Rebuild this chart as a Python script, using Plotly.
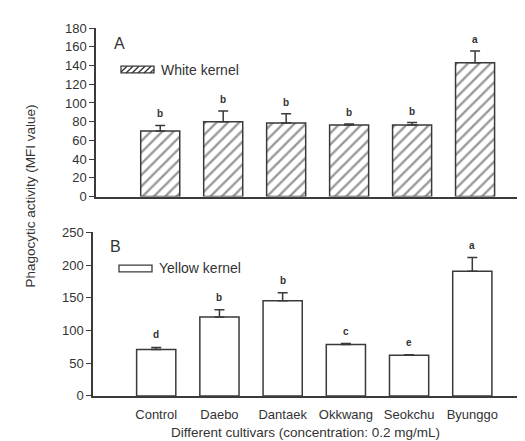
import plotly.graph_objects as go

W, H = 525, 441

categories = ["Control", "Daebo", "Dantaek", "Okkwang", "Seokchu", "Byunggo"]
white_mean = [70, 80, 78.5, 76.5, 76.5, 143]
white_err = [6, 11.5, 10, 1, 2.5, 12.5]
white_letters = ["b", "b", "b", "b", "b", "a"]
yellow_mean = [71, 120.5, 145.5, 78.5, 62, 190.5]
yellow_err = [3, 11, 12, 1.5, 1, 21]
yellow_letters = ["d", "b", "b", "c", "e", "a"]

top_ticks = [0, 20, 40, 60, 80, 100, 120, 140, 160, 180]
bot_ticks = [0, 50, 100, 150, 200, 250]

FONT = "Liberation Sans, Arial, sans-serif"
LINE = "#3a3a3a"
TXT = "#333333"

def px(x):
    return x / W

def py(y):
    return 1 - y / H

xs = list(range(len(categories)))

fig = go.Figure()

fig.add_trace(go.Bar(
    x=xs, y=white_mean, width=0.62, xaxis="x", yaxis="y",
    marker=dict(color="white", line=dict(color=LINE, width=1.5),
                pattern=dict(shape="/", size=8, solidity=0.3, fgcolor="#333333", bgcolor="white")),
    error_y=dict(type="data", symmetric=False, array=white_err, arrayminus=[0] * 6,
                 color=LINE, thickness=1.5, width=5),
    showlegend=False,
))
fig.add_trace(go.Bar(
    x=xs, y=yellow_mean, width=0.62, xaxis="x2", yaxis="y2",
    marker=dict(color="white", line=dict(color=LINE, width=1.5)),
    error_y=dict(type="data", symmetric=False, array=yellow_err, arrayminus=[0] * 6,
                 color=LINE, thickness=1.5, width=5),
    showlegend=False,
))

annotations = []
for i in xs:
    annotations.append(dict(x=i, y=white_mean[i] + white_err[i], xref="x", yref="y",
                            text="<b>" + white_letters[i] + "</b>", showarrow=False, yanchor="bottom", yshift=4,
                            font=dict(family=FONT, size=10, color=TXT)))
    annotations.append(dict(x=i, y=yellow_mean[i] + yellow_err[i], xref="x2", yref="y2",
                            text="<b>" + yellow_letters[i] + "</b>", showarrow=False, yanchor="bottom", yshift=5,
                            font=dict(family=FONT, size=10, color=TXT)))

# panel labels
annotations.append(dict(x=px(104), y=py(29), xref="paper", yref="paper", text="A", showarrow=False,
                        xanchor="left", yanchor="middle", font=dict(family=FONT, size=16, color=TXT)))
annotations.append(dict(x=px(100), y=py(240), xref="paper", yref="paper", text="B", showarrow=False,
                        xanchor="left", yanchor="middle", font=dict(family=FONT, size=16, color=TXT)))
# legend texts
annotations.append(dict(x=px(151), y=py(57), xref="paper", yref="paper", text="White kernel", showarrow=False,
                        xanchor="left", yanchor="middle", font=dict(family=FONT, size=14, color=TXT)))
annotations.append(dict(x=px(149), y=py(262), xref="paper", yref="paper", text="Yellow kernel", showarrow=False,
                        xanchor="left", yanchor="middle", font=dict(family=FONT, size=14, color=TXT)))
# axis titles
annotations.append(dict(x=px(23), y=py(188), xref="paper", yref="paper",
                        text="Phagocytic activity (MFI value)", showarrow=False, textangle=-90,
                        xanchor="center", yanchor="middle", font=dict(family=FONT, size=13.5, color=TXT)))
annotations.append(dict(x=px(297), y=py(432), xref="paper", yref="paper",
                        text="Different cultivars (concentration: 0.2 mg/mL)", showarrow=False,
                        xanchor="center", yanchor="middle", font=dict(family=FONT, size=13.5, color=TXT)))

shapes = []
# legend swatches
def swatch(x0, y0, x1, y1, hatch):
    shapes.append(dict(type="rect", xref="paper", yref="paper", x0=px(x0), x1=px(x1), y0=py(y1), y1=py(y0),
                       line=dict(color=LINE, width=1.3), fillcolor="white"))
    if hatch:
        h = y1 - y0
        s = 6
        start = x0 - h
        while start < x1:
            ax, ay = start, y1
            bx, by = start + h, y0
            if ax < x0:
                ay = y1 - (x0 - ax)
                ax = x0
            if bx > x1:
                by = y0 + (bx - x1)
                bx = x1
            if bx > ax:
                shapes.append(dict(type="line", xref="paper", yref="paper",
                                   x0=px(ax), y0=py(ay), x1=px(bx), y1=py(by),
                                   line=dict(color="#333333", width=1.3)))
            start += s

swatch(113, 53, 146, 60, True)
swatch(111, 259, 144, 266, False)

axis_common = dict(showgrid=False, zeroline=False, showline=True, linecolor=LINE, linewidth=1.5)
ytickfont = dict(family=FONT, size=13, color=TXT)
xtickfont = dict(family=FONT, size=13, color=TXT)

fig.update_layout(
    width=W, height=H,
    margin=dict(l=0, r=0, t=0, b=0),
    paper_bgcolor="white", plot_bgcolor="white",
    xaxis=dict(domain=[px(88), 1], anchor="y", range=[-1.02, 5.92], tickvals=xs,
               showticklabels=False, ticks="", **axis_common),
    yaxis=dict(domain=[py(188), py(13.5)], anchor="x", range=[0, 180], tickvals=top_ticks,
               ticks="outside", ticklen=5, tickcolor=LINE, tickwidth=1.3, tickfont=ytickfont, **axis_common),
    xaxis2=dict(domain=[px(85), 1], anchor="y2", range=[-1.0, 5.96], tickvals=xs, ticktext=categories,
                ticks="", ticklabelstandoff=6, tickfont=xtickfont, **axis_common),
    yaxis2=dict(domain=[py(394.3), py(225)], anchor="x2", range=[0, 250], tickvals=bot_ticks,
                ticks="outside", ticklen=5, tickcolor=LINE, tickwidth=1.3, tickfont=ytickfont, **axis_common),
    annotations=annotations,
    shapes=shapes,
)

fig.write_html("out.html")
